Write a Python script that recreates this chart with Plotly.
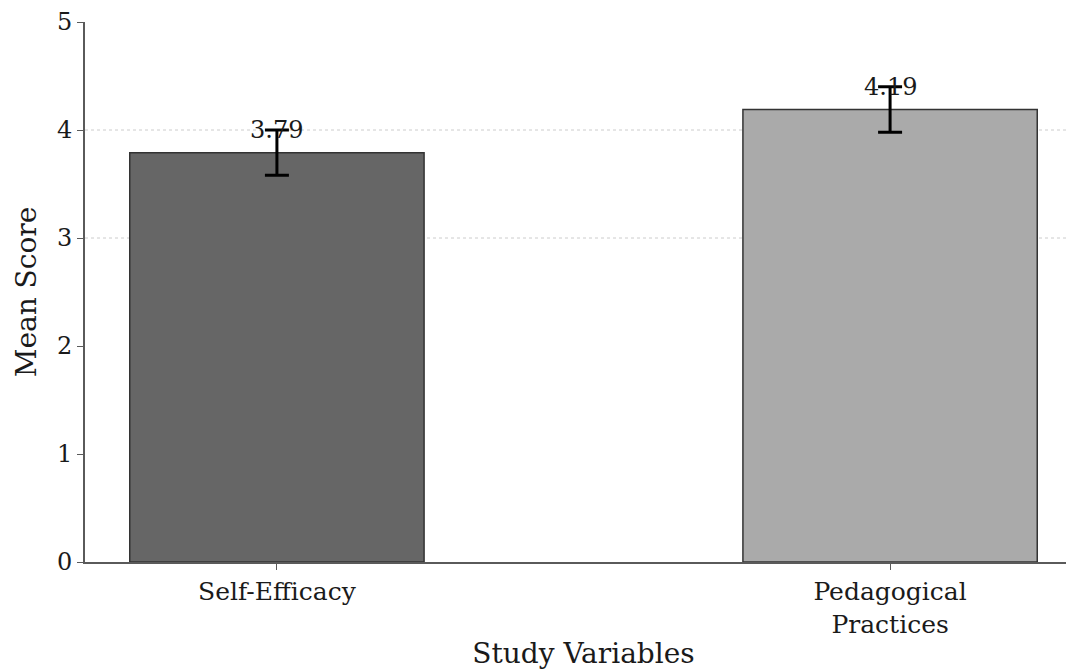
import plotly.graph_objects as go

categories = ["Self-Efficacy", "Pedagogical<br>Practices"]
means = [3.79, 4.19]
errors = [0.21, 0.21]
bar_colors = ["#666666", "#aaaaaa"]
y_ticks = [0, 1, 2, 3, 4, 5]
grid_values = [3, 4]

FONT = "DejaVu Serif"

fig = go.Figure()
fig.add_trace(go.Bar(
    x=categories, y=means, width=0.48,
    marker=dict(color=bar_colors, line=dict(color="#333333", width=1.5)),
    error_y=dict(type="data", array=errors, color="black", thickness=3, width=12),
    showlegend=False,
))

for c, m, e in zip(categories, means, errors):
    fig.add_annotation(x=c, y=m + e, text=f"{m:.2f}", showarrow=False,
                       yanchor="middle", xanchor="center",
                       font=dict(family=FONT, size=24, color="#1a1a1a"))

for g in grid_values:
    fig.add_shape(type="line", xref="paper", x0=0, x1=1, yref="y", y0=g, y1=g,
                  line=dict(color="#cccccc", width=1, dash="dot"), layer="below")

fig.update_layout(
    width=1074, height=672,
    margin=dict(l=77, r=0, t=14, b=118),
    plot_bgcolor="white", paper_bgcolor="white",
    font=dict(family=FONT, size=24, color="#1a1a1a"),
)
fig.update_xaxes(
    range=[-0.313, 1.313], showline=True, linecolor="#5a5a5a", linewidth=2,
    ticks="outside", ticklen=6, tickcolor="#5a5a5a", showgrid=False,
    tickfont=dict(family=FONT, size=25), automargin=False,
    title=dict(text="Study Variables", font=dict(family=FONT, size=28), standoff=6),
)
fig.update_yaxes(
    range=[0, 5], tickvals=y_ticks, showline=True, linecolor="#5a5a5a", linewidth=2,
    ticks="outside", ticklen=6, tickcolor="#5a5a5a", showgrid=False, zeroline=False,
    tickfont=dict(family=FONT, size=24), automargin=False,
    title=dict(text="Mean Score", font=dict(family=FONT, size=28), standoff=12),
)

fig.write_html("out.html")
